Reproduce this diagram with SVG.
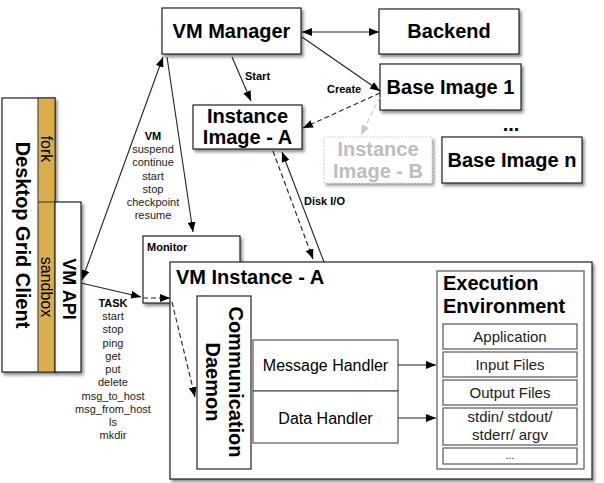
<svg xmlns="http://www.w3.org/2000/svg" width="604" height="483" viewBox="0 0 604 483">
<defs>
<filter id="sh" x="-10%" y="-10%" width="130%" height="130%">
<feDropShadow dx="2" dy="2.5" stdDeviation="1.5" flood-color="#000" flood-opacity="0.45"/>
</filter>
<marker id="ah" viewBox="0 0 10 8" refX="10" refY="4" markerWidth="10" markerHeight="8" markerUnits="userSpaceOnUse" orient="auto-start-reverse">
<path d="M0,0 L10,4 L0,8 Z" fill="#000"/>
</marker>
<marker id="ahg" viewBox="0 0 10 8" refX="10" refY="4" markerWidth="10" markerHeight="8" markerUnits="userSpaceOnUse" orient="auto">
<path d="M0,0 L10,4 L0,8 Z" fill="#c8c8c8"/>
</marker>
</defs>
<style>
text{font-family:"Liberation Sans",Arial,Helvetica,sans-serif;fill:#000}
.box{fill:#fff;stroke:#222;stroke-width:1.2}
.ibox{fill:#fff;stroke:#555;stroke-width:1.2}
.gold{fill:#D9AE4B;stroke:#333;stroke-width:1}
.t20{font-size:20px;font-weight:bold}
.t16{font-size:16px}
.t15{font-size:15px;fill:#222}
.lb{font-size:11px;font-weight:bold}
.ls{font-size:11px;fill:#222}
.ln{fill:none;stroke:#222;stroke-width:1.1}
.dash{fill:none;stroke:#222;stroke-width:1.1;stroke-dasharray:5,3}
</style>

<g id="desktop-grid-client">
<rect class="box" x="2" y="98" width="53" height="274" filter="url(#sh)"/>
<rect class="gold" x="38" y="98" width="17" height="274"/>
<line x1="38" y1="202" x2="55" y2="202" stroke="#333" stroke-width="1"/>
<text class="t20" text-anchor="middle" transform="translate(16,235) rotate(90)">Desktop Grid Client</text>
<text class="t16" text-anchor="middle" transform="translate(40.5,149) rotate(90)">fork</text>
<text class="t16" text-anchor="middle" transform="translate(40.5,287) rotate(90)">sandbox</text>
</g>
<g id="vm-api">
<rect class="box" x="55" y="202" width="26" height="170" filter="url(#sh)"/>
<text class="t20" style="font-size:18px" text-anchor="middle" transform="translate(63,289) rotate(90)">VM API</text>
</g>

<g id="vm-manager">
<rect class="box" x="162" y="8" width="139" height="46" filter="url(#sh)"/>
<text class="t20" x="231.5" y="38" text-anchor="middle">VM Manager</text>
</g>
<g id="backend">
<rect class="box" x="379" y="9" width="140" height="45" filter="url(#sh)"/>
<text class="t20" x="449" y="38" text-anchor="middle">Backend</text>
</g>
<g id="base-image-1">
<rect class="box" x="380" y="64" width="141" height="46" filter="url(#sh)"/>
<text class="t20" x="450.5" y="94" text-anchor="middle">Base Image 1</text>
</g>
<g id="dots">
<text class="t20" x="511" y="131" text-anchor="middle">...</text>
</g>
<g id="base-image-n">
<rect class="box" x="442" y="137" width="140" height="46" filter="url(#sh)"/>
<text class="t20" x="512" y="167" text-anchor="middle">Base Image n</text>
</g>
<g id="instance-image-b">
<rect x="324" y="137" width="108" height="46" fill="#fff" stroke="#d0d0d0" stroke-width="1.2" stroke-dasharray="2,1.5" filter="url(#sh)" style="opacity:0.9"/>
<text class="t20" x="378" y="156" text-anchor="middle" style="fill:#bdbdbd">Instance</text>
<text class="t20" x="378" y="178" text-anchor="middle" style="fill:#bdbdbd">Image - B</text>
</g>
<g id="instance-image-a">
<rect class="box" x="193" y="105" width="109" height="44" filter="url(#sh)"/>
<text class="t20" x="247.5" y="123" text-anchor="middle">Instance</text>
<text class="t20" x="247.5" y="144" text-anchor="middle">Image - A</text>
</g>
<g id="monitor">
<rect class="box" x="143" y="236" width="97" height="67" filter="url(#sh)"/>
<text class="lb" x="147" y="251">Monitor</text>
</g>

<g id="vm-instance-a">
<rect class="box" x="170" y="262" width="422" height="217" filter="url(#sh)"/>
<text class="t20" x="176" y="284">VM Instance - A</text>
</g>
<g id="communication-daemon">
<rect class="box" x="197" y="296" width="54" height="173"/>
<text class="t20" text-anchor="middle" transform="translate(228.5,382) rotate(90)">Communication</text>
<text class="t20" text-anchor="middle" transform="translate(205.5,382) rotate(90)">Daemon</text>
</g>
<g id="message-handler">
<rect class="ibox" x="253" y="340" width="145" height="51"/>
<text class="t16" x="325.5" y="371" text-anchor="middle">Message Handler</text>
</g>
<g id="data-handler">
<rect class="ibox" x="253" y="391" width="145" height="52"/>
<text class="t16" x="325.5" y="424" text-anchor="middle">Data Handler</text>
</g>
<g id="execution-environment">
<rect class="ibox" x="437" y="271" width="147" height="198"/>
<text class="t20" x="443" y="290">Execution</text>
<text class="t20" x="443" y="313">Environment</text>
</g>
<g id="application">
<rect class="ibox" x="443" y="324" width="134" height="25"/>
<text class="t15" x="510" y="342" text-anchor="middle">Application</text>
</g>
<g id="input-files">
<rect class="ibox" x="443" y="352" width="134" height="25"/>
<text class="t15" x="510" y="370" text-anchor="middle">Input Files</text>
</g>
<g id="output-files">
<rect class="ibox" x="443" y="380" width="134" height="25"/>
<text class="t15" x="510" y="398" text-anchor="middle">Output Files</text>
</g>
<g id="std-streams">
<rect class="ibox" x="443" y="408" width="134" height="37"/>
<text class="t15" x="510" y="422" text-anchor="middle">stdin/ stdout/</text>
<text class="t15" x="510" y="440" text-anchor="middle">stderr/ argv</text>
</g>
<g id="more">
<rect class="ibox" x="443" y="448" width="134" height="16"/>
<text class="t15" style="font-size:11px" x="510" y="459" text-anchor="middle">...</text>
</g>

<g id="connectors">
<line class="ln" x1="302" y1="32" x2="379" y2="32" marker-start="url(#ah)" marker-end="url(#ah)"/>
<line class="ln" x1="302" y1="37" x2="380" y2="91" marker-end="url(#ah)"/>
<line class="dash" x1="380" y1="93" x2="303" y2="128" marker-end="url(#ah)"/>
<line x1="380" y1="97" x2="361" y2="135" fill="none" stroke="#c8c8c8" stroke-width="1.1" stroke-dasharray="5,3" marker-end="url(#ahg)"/>
<line class="ln" x1="232" y1="57" x2="251" y2="101" marker-end="url(#ah)"/>
<line class="ln" x1="82" y1="280" x2="163" y2="57" marker-start="url(#ah)" marker-end="url(#ah)"/>
<line class="ln" x1="167" y1="57" x2="193" y2="232" marker-end="url(#ah)"/>
<line class="ln" x1="81" y1="283" x2="141" y2="297" marker-end="url(#ah)"/>
<line class="dash" x1="143" y1="298" x2="170" y2="298" marker-end="url(#ah)"/>
<line class="dash" x1="172" y1="302" x2="195" y2="397" marker-end="url(#ah)"/>
<line class="dash" x1="273" y1="151" x2="313" y2="259" marker-end="url(#ah)"/>
<line class="ln" x1="324" y1="262" x2="282" y2="152" marker-end="url(#ah)"/>
<line class="ln" x1="398" y1="365" x2="436" y2="365" marker-end="url(#ah)"/>
<line class="ln" x1="398" y1="418" x2="436" y2="418" marker-end="url(#ah)"/>
<text class="lb" x="245" y="80">Start</text>
<text class="lb" x="327" y="93">Create</text>
<text class="lb" x="304" y="205">Disk I/O</text>
<g text-anchor="middle">
<text class="lb" x="153" y="140">VM</text>
<text class="ls" x="153" y="153">suspend</text>
<text class="ls" x="153" y="166">continue</text>
<text class="ls" x="153" y="179.5">start</text>
<text class="ls" x="153" y="193">stop</text>
<text class="ls" x="153" y="206">checkpoint</text>
<text class="ls" x="153" y="219">resume</text>
<text class="lb" x="113" y="307">TASK</text>
<text class="ls" x="113" y="320">start</text>
<text class="ls" x="113" y="333">stop</text>
<text class="ls" x="113" y="346.5">ping</text>
<text class="ls" x="113" y="360">get</text>
<text class="ls" x="113" y="373">put</text>
<text class="ls" x="113" y="386">delete</text>
<text class="ls" x="113" y="399.5">msg_to_host</text>
<text class="ls" x="113" y="413">msg_from_host</text>
<text class="ls" x="113" y="426">ls</text>
<text class="ls" x="113" y="439">mkdir</text>
</g>
</g>
</svg>
